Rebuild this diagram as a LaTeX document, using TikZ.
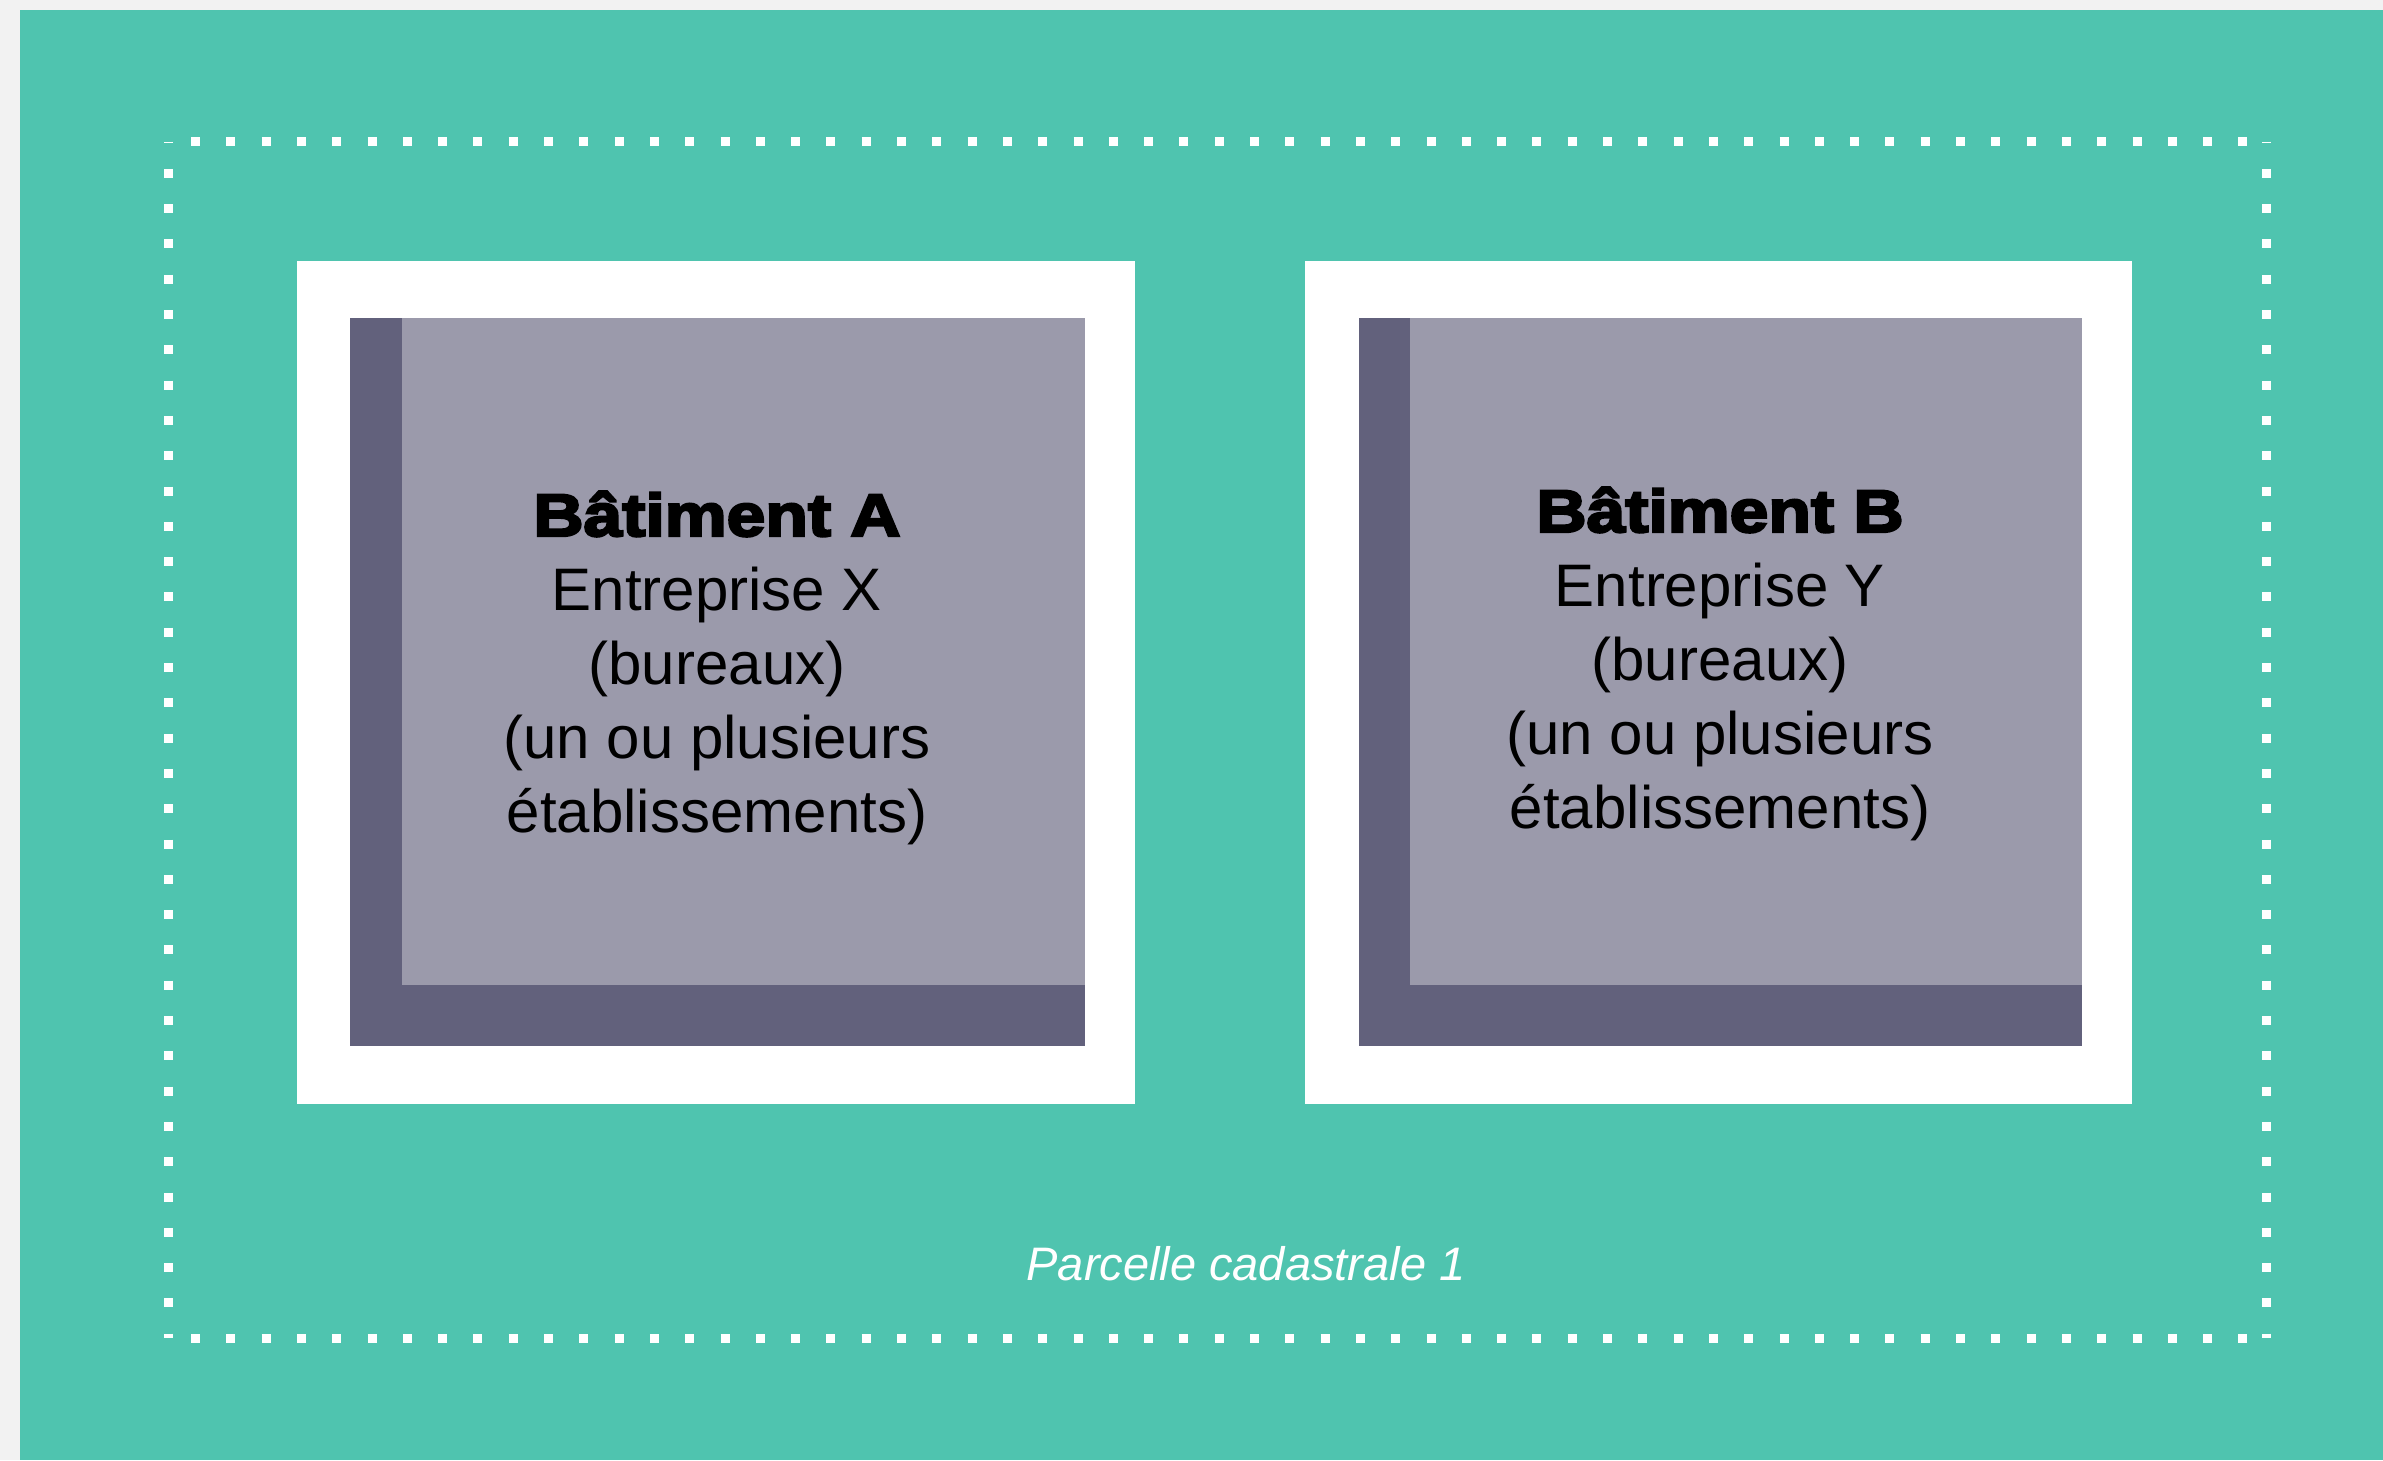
\documentclass[tikz,border=0pt]{standalone}
\usepackage{fontspec}
\setmainfont{Liberation Sans}
\newfontfamily\heavyfont[FakeStretch=1.16,FakeBold=4]{Liberation Sans Bold}
\definecolor{parcel}{RGB}{79,196,175}
\definecolor{margincol}{RGB}{242,242,242}
\definecolor{bldlight}{RGB}{155,154,171}
\definecolor{blddark}{RGB}{98,97,124}
\begin{document}
\begin{tikzpicture}[x=1pt,y=-1pt,
  dotline/.style={draw=white,line width=9pt,dash pattern=on 9pt off 26.3pt},
  bldtext/.style={anchor=base,align=center,inner sep=0pt,text=black,
    font=\fontsize{60}{74}\selectfont},
  parceltext/.style={anchor=base,inner sep=0pt,text=white,
    font=\fontsize{47}{56}\selectfont\itshape}]
\useasboundingbox (0,0) rectangle (2383,1460);
\fill[margincol] (0,0) rectangle (2383,1460);
\fill[parcel] (20,10) rectangle (2383,1460);
% dotted parcel boundary
\coordinate (tl) at (168.5,141.5);
\coordinate (tr) at (2266.5,141.5);
\coordinate (br) at (2266.5,1338);
\coordinate (bl) at (168.5,1338);
\draw[dotline,dash phase=12.8pt] (tl) -- (tr);
\draw[dotline,dash phase=8pt] (tl) -- (bl);
\draw[dotline,dash phase=8pt] (tr) -- (br);
\draw[dotline,dash phase=12.8pt] (bl) -- (br);
% building A
\fill[white] (297,261) rectangle (1135,1104);
\fill[blddark] (350,318) rectangle (1085,1046);
\fill[bldlight] (402,318) rectangle (1085,985);
% building B
\fill[white] (1305,261) rectangle (2132,1104);
\fill[blddark] (1359,318) rectangle (2082,1046);
\fill[bldlight] (1410,318) rectangle (2082,985);
\node[bldtext] (ta) at (717,832) {{\heavyfont Bâtiment A}\\Entreprise X\\(bureaux)\\(un ou plusieurs\\établissements)};
\node[bldtext] (tb) at (1720,828) {{\heavyfont Bâtiment B}\\Entreprise Y\\(bureaux)\\(un ou plusieurs\\établissements)};
\node[parceltext] (pc) at (1246,1280) {Parcelle cadastrale 1};
\end{tikzpicture}
\end{document}
